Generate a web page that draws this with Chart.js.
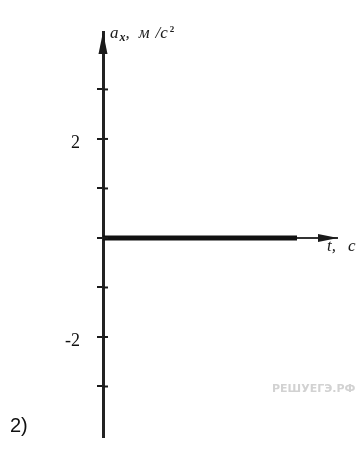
<!DOCTYPE html>
<html>
<head>
<meta charset="utf-8">
<script src="https://cdn.jsdelivr.net/npm/chart.js@4.4.1/dist/chart.umd.min.js"></script>
<style>
  html, body { margin: 0; padding: 0; background: #fff; }
  #wrap { position: relative; width: 363px; height: 450px; }
</style>
</head>
<body>
<div id="wrap"><canvas id="accelChart" width="363" height="450"></canvas></div>
<script>
// a_x(t) graph: acceleration stays at zero
const timeValues = [0, 8];
const accelValues = [0, 0];
const tickValues = [-3, -2, -1, 0, 1, 2, 3];
const labeledTicks = [-2, 2];

const ink = '#1a1a1a';

// writes pieces of text one after another, each with its own font and shift
function drawRun(c, x, y, parts) {
  parts.forEach(p => {
    c.font = p.font;
    c.fillText(p.text, x, y + (p.dy || 0));
    x += c.measureText(p.text).width + (p.gap || 0);
  });
}

// arrows, axis captions and the small marks around the plot
const axisExtras = {
  id: 'axisExtras',
  afterDraw(chart) {
    const c = chart.ctx;
    const area = chart.chartArea;
    const y = chart.scales.y;
    const zeroY = y.getPixelForValue(0);
    const axisX = area.left;

    c.save();
    c.fillStyle = ink;
    c.strokeStyle = ink;

    // tick stubs right of the vertical axis
    c.lineWidth = 2;
    tickValues.forEach(v => {
      const py = y.getPixelForValue(v);
      c.beginPath();
      c.moveTo(axisX, py);
      c.lineTo(axisX + 5, py);
      c.stroke();
    });

    // arrow heads
    c.beginPath();
    c.moveTo(axisX, area.top);
    c.lineTo(axisX - 4.5, area.top + 22);
    c.lineTo(axisX + 4.5, area.top + 22);
    c.closePath();
    c.fill();

    c.beginPath();
    c.moveTo(area.right, zeroY);
    c.lineTo(area.right - 20, zeroY - 4);
    c.lineTo(area.right - 20, zeroY + 4);
    c.closePath();
    c.fill();

    // axis captions
    c.textBaseline = 'alphabetic';
    const it = 'italic 17px "Liberation Serif"';
    drawRun(c, 110, 38, [
      { text: 'a', font: it, gap: 1 },
      { text: 'x', font: 'italic bold 12px "Liberation Serif"', dy: 3 },
      { text: ',', font: it, gap: 9 },
      { text: 'м', font: it, gap: 6 },
      { text: '/c', font: it, gap: 2 },
      { text: '2', font: 'bold 9px "Liberation Serif"', dy: -6 }
    ]);

    drawRun(c, 327, 251, [
      { text: 't,', font: it, gap: 12 },
      { text: 'c', font: it }
    ]);

    // figure number
    c.font = '20px "Liberation Sans"';
    c.fillStyle = '#111';
    c.fillText('2)', 10, 432);

    // site mark
    c.font = 'bold 11px "DejaVu Sans"';
    c.fillStyle = '#d2d2d2';
    c.fillText('РЕШУЕГЭ.РФ', 272, 392);
    c.restore();
  }
};

new Chart(document.getElementById('accelChart'), {
  type: 'line',
  data: {
    datasets: [{
      data: timeValues.map((t, i) => ({ x: t, y: accelValues[i] })),
      borderColor: '#111',
      borderWidth: 5,
      pointRadius: 0,
      tension: 0,
      clip: false
    }]
  },
  options: {
    responsive: false,
    animation: false,
    events: [],
    layout: { padding: { left: 43, right: 25, top: 32, bottom: 13 } },
    plugins: { legend: { display: false }, tooltip: { enabled: false } },
    scales: {
      x: {
        type: 'linear',
        display: false,
        min: 0,
        max: 9.69
      },
      y: {
        type: 'linear',
        position: 'left',
        min: -4.02,
        max: 4.16,
        afterFit: s => {
          s.width = 60;
          s.paddingTop = 0;
          s.paddingBottom = 0;
        },
        afterBuildTicks: s => { s.ticks = tickValues.map(v => ({ value: v })); },
        border: { display: true, color: '#222', width: 3 },
        grid: {
          drawOnChartArea: true,
          color: ctx => ctx.tick && ctx.tick.value === 0 ? '#333' : 'transparent',
          lineWidth: 2,
          tickColor: ink,
          tickWidth: 2,
          tickLength: 6
        },
        ticks: {
          padding: 17,
          labelOffset: 4,
          color: '#111',
          font: { family: 'Liberation Serif', size: 18 },
          callback: v => labeledTicks.includes(v) ? String(v) : ''
        }
      }
    }
  },
  plugins: [axisExtras]
});
</script>
</body>
</html>
